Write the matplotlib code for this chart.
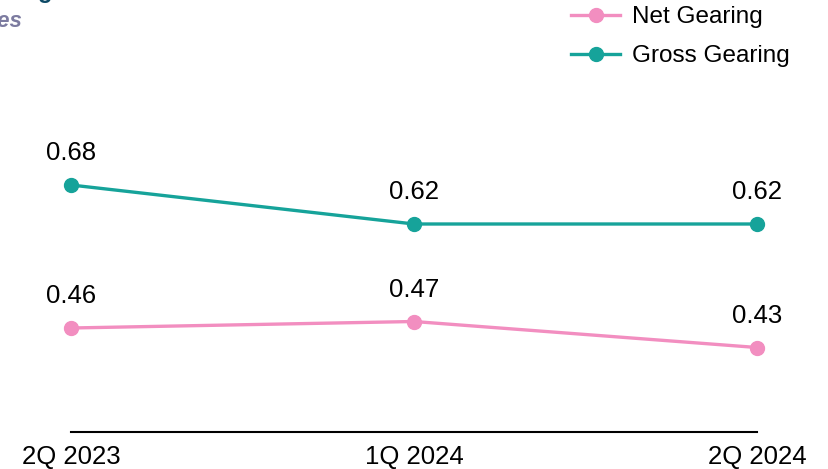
import matplotlib
matplotlib.use("Agg")
import matplotlib.pyplot as plt

plt.rcParams['font.family'] = ['Liberation Sans', 'DejaVu Sans']

# quarters and gearing ratios
quarters = ["2Q 2023", "1Q 2024", "2Q 2024"]
net_gearing = [0.46, 0.47, 0.43]
gross_gearing = [0.68, 0.62, 0.62]

PINK = "#F28EC0"
TEAL = "#16A39A"

W, H = 829, 469
fig = plt.figure(figsize=(W / 100, H / 100), dpi=100)
ax = fig.add_axes([71 / W, (H - 432) / H, 686 / W, 432 / H])

x = list(range(len(quarters)))
ax.plot(x, net_gearing, color=PINK, lw=2.4, marker="o", ms=10, label="Net Gearing", clip_on=False)
ax.plot(x, gross_gearing, color=TEAL, lw=2.4, marker="o", ms=10, label="Gross Gearing", clip_on=False)

# value labels above each point
for series in (net_gearing, gross_gearing):
    for xi, v in zip(x, series):
        ax.annotate(f"{v:.2f}", (xi, v), xytext=(0, 23), textcoords="offset points",
                    ha="center", va="center", fontsize=18.5)

ax.set_xlim(0, 2)
ax.set_ylim(0.3, 0.3 + 432 / 650)
ax.set_xticks(x)
ax.set_xticklabels(quarters, fontsize=18.5)
ax.tick_params(axis="x", length=0, pad=9)
ax.set_yticks([])
for s in ["top", "right", "left"]:
    ax.spines[s].set_visible(False)
ax.spines["bottom"].set_linewidth(1.5)
ax.spines["bottom"].set_color("black")
ax.patch.set_alpha(0)

leg = fig.legend(loc="upper right", bbox_to_anchor=(790 / W, 1 - 6 / H), frameon=False,
                 fontsize=17.5, handlelength=2.0, labelspacing=0.7, handletextpad=0.5,
                 borderaxespad=0, borderpad=0)

# heading, partly cut off at the top edge
fig.text(53 / W, 1 + 2 / H, "Gearing", ha="right", va="baseline", fontsize=17,
         fontweight="bold", color="#0D4A66")
fig.text(22 / W, 1 - 27 / H, "Times", ha="right", va="baseline", fontsize=16,
         fontweight="bold", fontstyle="italic", color="#7C7BA0")

fig.savefig("out.png", dpi=100)
